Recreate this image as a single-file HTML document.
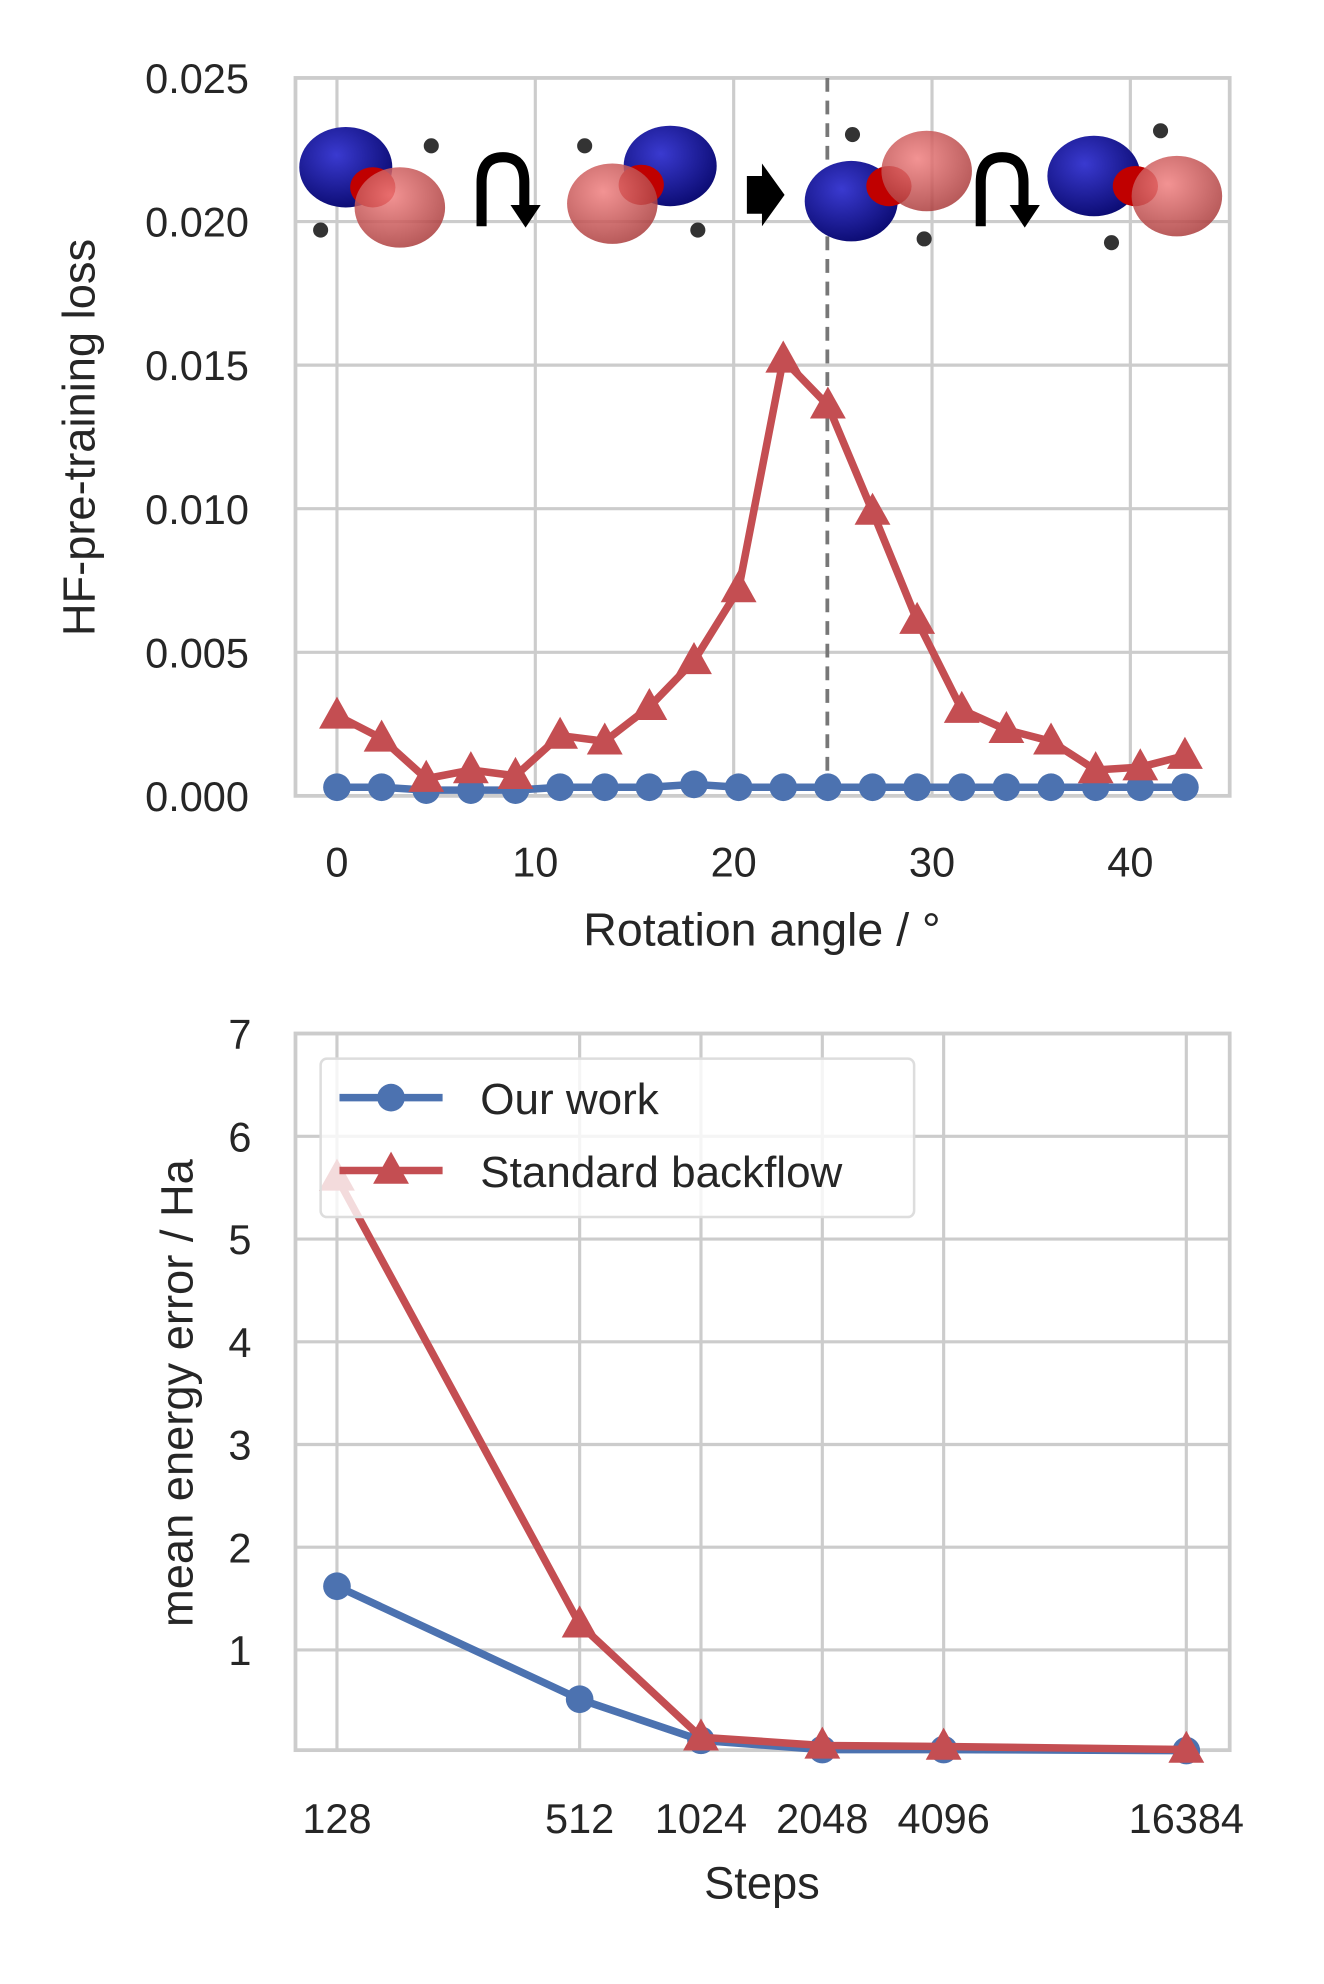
<!DOCTYPE html>
<html><head><meta charset="utf-8"><style>
html,body{margin:0;padding:0;background:#fff}
svg{display:block}
text{font-family:"Liberation Sans",sans-serif;fill:#262626}
</style></head><body>
<svg id="fig" width="1324" height="1984" viewBox="0 0 1053 1578" preserveAspectRatio="none" xmlns="http://www.w3.org/2000/svg">
<defs>
<radialGradient id="gb" cx="40%" cy="35%" r="70%"><stop offset="0" stop-color="#3a3ad0"/><stop offset="1" stop-color="#0a0a70"/></radialGradient>
<radialGradient id="gr" cx="40%" cy="35%" r="70%"><stop offset="0" stop-color="#f08080"/><stop offset="1" stop-color="#a83a3a"/></radialGradient>
</defs>
<g id="top"></g>
<g id="bot"></g>
</svg>
<script>
const angles=[0,2.25,4.5,6.75,9,11.25,13.5,15.75,18,20.25,22.5,24.75,27,29.25,31.5,33.75,36,38.25,40.5,42.75];
const redLoss=[0.0028,0.0020,0.0006,0.0009,0.0007,0.0021,0.0019,0.0031,0.0047,0.0072,0.0152,0.0136,0.0099,0.0061,0.0030,0.0023,0.0019,0.0009,0.0010,0.0014];
const blueLoss=[0.0003,0.0003,0.0002,0.0002,0.0002,0.0003,0.0003,0.0003,0.0004,0.0003,0.0003,0.0003,0.0003,0.0003,0.0003,0.0003,0.0003,0.0003,0.0003,0.0003];
const topYTicks=[0,0.005,0.010,0.015,0.020,0.025];
const topXTicks=[0,10,20,30,40];
const steps=[128,512,1024,2048,4096,16384];
const ourWork=[1.62,0.52,0.12,0.03,0.03,0.02];
const standard=[5.6,1.25,0.15,0.07,0.06,0.03];
const botYTicks=[1,2,3,4,5,6,7];
const NS='http://www.w3.org/2000/svg';
function mk(p,tag,a){const e=document.createElementNS(NS,tag);for(const k in a)e.setAttribute(k,a[k]);p.appendChild(e);return e;}
const BLUE='#4c72b0',RED='#c44e52',GRID='#cccccc';
function tri(x,y,s){return `${x},${y-s} ${x-s*0.95},${y+s*0.7} ${x+s*0.95},${y+s*0.7}`;}
// TOP
const T=document.getElementById('top');
const tx=a=>268+a*15.775, ty=v=>633-v*(571/0.025);
topYTicks.forEach(v=>{const l=mk(T,'line',{x1:235,x2:978,y1:ty(v),y2:ty(v),stroke:GRID,'stroke-width':2.5});


const t=mk(T,'text',{x:198,y:ty(v)+12,'text-anchor':'end','font-size':33});t.textContent=v.toFixed(3);

});
topXTicks.forEach(v=>{const l=mk(T,'line',{x1:tx(v),x2:tx(v),y1:62,y2:633,stroke:GRID,'stroke-width':2.5});


const t=mk(T,'text',{x:tx(v),y:697,'text-anchor':'middle','font-size':33});t.textContent=v;

});
let fr=mk(T,'rect',{x:235,y:62,width:743,height:571,fill:'none',stroke:GRID,'stroke-width':3});


let dl=mk(T,'line',{x1:658,x2:658,y1:62,y2:633,stroke:'#777','stroke-width':3,'stroke-dasharray':'11,7'});


function mol(b,rx,ry,dots){const g=mk(T,'g',{});


mk(g,'ellipse',{cx:b[0],cy:b[1],rx:37,ry:32,fill:'url(#gb)'});
mk(g,'ellipse',{cx:(b[0]+rx)/2,cy:(b[1]+ry)/2,rx:18,ry:16,fill:'#c00000'});
mk(g,'ellipse',{cx:rx,cy:ry,rx:36,ry:32,fill:'url(#gr)',opacity:0.85});
dots.forEach(d=>mk(g,'circle',{cx:d[0],cy:d[1],r:6,fill:'#333'}));}
mol([275,133],318,165,[[343,116],[255,183]]);
mol([533,132],487,162,[[465,116],[555,183]]);
mol([677,160],737,136,[[678,107],[735,190]]);
mol([870,140],936,156,[[923,104],[884,193]]);
function curl(x){const g=mk(T,'g',{});


mk(g,'path',{d:`M${x-20},180 L${x-20},145 Q${x-20},125 ${x-3},125 Q${x+14},125 ${x+14},145 L${x+14},165`,fill:'none',stroke:'#000','stroke-width':8});
mk(g,'polygon',{points:`${x+3},163 ${x+27},163 ${x+15},181`,fill:'#000'});}
curl(403);curl(800);
let ar=mk(T,'polygon',{points:'594,140 606,140 606,130 624,155 606,180 606,170 594,170',fill:'#000'});


function series(P,xs,ys,fx,fy,col,mark,name){
const pl=mk(P,'polyline',{points:xs.map((x,i)=>fx(x)+','+fy(ys[i])).join(' '),fill:'none',stroke:col,'stroke-width':6,'stroke-linejoin':'round'});


xs.forEach((x,i)=>{let m;
if(mark==='c')m=mk(P,'circle',{cx:fx(x),cy:fy(ys[i]),r:11,fill:col});
else m=mk(P,'polygon',{points:tri(fx(x),fy(ys[i]),15),fill:col});

});}
series(T,angles,blueLoss,tx,ty,BLUE,'c','our-work');
series(T,angles,redLoss,tx,ty,RED,'t','standard-backflow');
let yl=mk(T,'text',{x:0,y:0,transform:'translate(75,348) rotate(-90)','text-anchor':'middle','font-size':36});yl.textContent='HF-pre-training loss';


let xl=mk(T,'text',{x:606,y:752,'text-anchor':'middle','font-size':37});xl.textContent='Rotation angle / °';


// BOTTOM
const B=document.getElementById('bot');
const bx=s=>268+(Math.log2(s)-7)*96.5, by=v=>1394-v*81.7;
botYTicks.forEach(v=>{const l=mk(B,'line',{x1:235,x2:978,y1:by(v),y2:by(v),stroke:GRID,'stroke-width':2.5});


const t=mk(B,'text',{x:200,y:by(v)+12,'text-anchor':'end','font-size':33});t.textContent=v;

});
steps.forEach(s=>{const l=mk(B,'line',{x1:bx(s),x2:bx(s),y1:822,y2:1392,stroke:GRID,'stroke-width':2.5});


const t=mk(B,'text',{x:bx(s),y:1458,'text-anchor':'middle','font-size':33});t.textContent=s;

});
fr=mk(B,'rect',{x:235,y:822,width:743,height:570,fill:'none',stroke:GRID,'stroke-width':3});


series(B,steps,ourWork,bx,by,BLUE,'c','our-work');
series(B,steps,standard,bx,by,RED,'t','standard-backflow');
const lg=mk(B,'g',{});


mk(lg,'rect',{x:255,y:842,width:472,height:126,rx:5,fill:'#fff','fill-opacity':0.8,stroke:'#ddd','stroke-width':2});
mk(lg,'line',{x1:270,x2:352,y1:873,y2:873,stroke:BLUE,'stroke-width':6});
mk(lg,'circle',{cx:311,cy:873,r:11,fill:BLUE});
mk(lg,'line',{x1:270,x2:352,y1:931,y2:931,stroke:RED,'stroke-width':6});
mk(lg,'polygon',{points:tri(311,931,15),fill:RED});
let t1=mk(lg,'text',{x:382,y:886,'font-size':35});t1.textContent='Our work';


let t2=mk(lg,'text',{x:382,y:944,'font-size':35});t2.textContent='Standard backflow';


yl=mk(B,'text',{x:0,y:0,transform:'translate(153,1108) rotate(-90)','text-anchor':'middle','font-size':36});yl.textContent='mean energy error / Ha';


xl=mk(B,'text',{x:606,y:1510,'text-anchor':'middle','font-size':36});xl.textContent='Steps';


</script>
</body></html>
